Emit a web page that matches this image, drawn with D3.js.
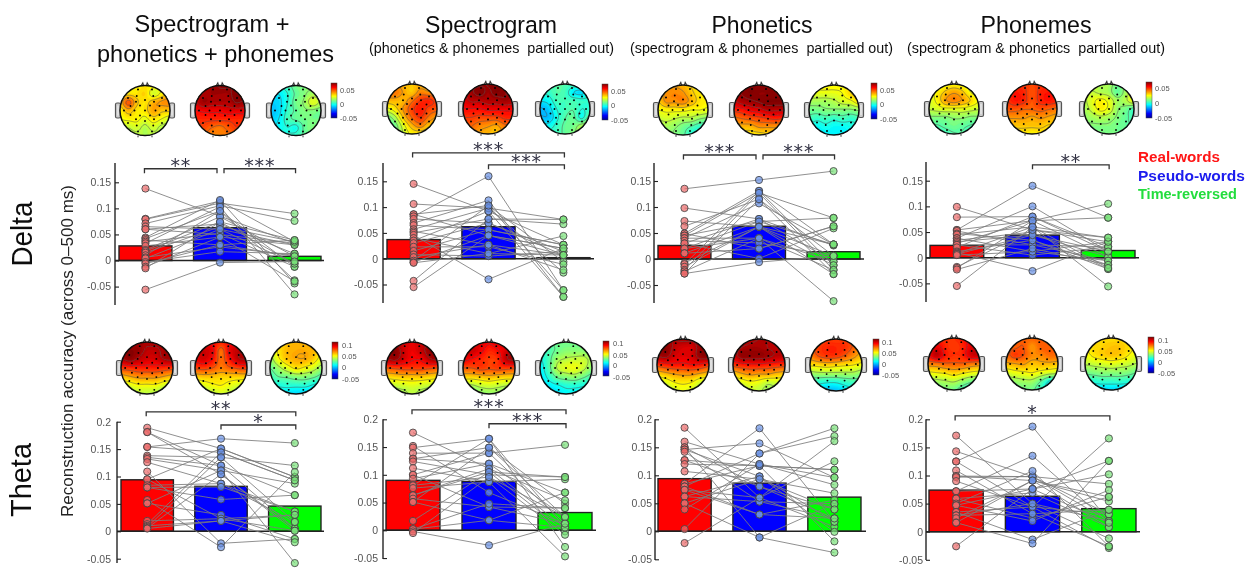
<!DOCTYPE html>
<html><head><meta charset="utf-8">
<script src="https://cdn.jsdelivr.net/npm/d3@7/dist/d3.min.js"></script>
<style>html,body{margin:0;padding:0;background:#fff}svg{display:block}text{font-family:"Liberation Sans",Arial,sans-serif}</style>
</head><body><svg id="c" width="1251" height="568"></svg>
<script>
// ---------- categories and labels ----------
const conditions = ["Real-words","Pseudo-words","Time-reversed"];
const conditionColors = ["#ff0000","#0000ff","#00ff00"];
const dotFill = ["rgb(235,105,105)","rgb(105,145,230)","rgb(120,225,120)"];
const legendColors = ["#ff1414","#1a1aee","#22dd3c"];
const deltaTicks = [-0.05,0,0.05,0.1,0.15];
const thetaTicks = [-0.05,0,0.05,0.1,0.15,0.2];
const deltaBarTicks = [-0.05,0,0.05];
const thetaBarTicks = [-0.05,0,0.05,0.1];

// ---------- mean bars ----------
const barD1=[.028,.063,.008], barD2=[.037,.062,.002], barD3=[.026,.063,.014], barD4=[.024,.044,.014];
const barT1=[.094,.082,.046], barT2=[.090,.088,.032], barT3=[.094,.086,.061], barT4=[.074,.063,.041];

// ---------- subject values ----------
const d1r=[.138,.08,.079,.071,.065,.06,.06,.044,.042,.039,.036,.033,.028,.02,.018,.015,.01,.006,.004,-.003,-.006,-.012,-.015,-.056];
const d1b=[.085,.114,.11,.105,.06,.07,.05,.116,.095,.03,.052,.103,.045,.084,.074,.065,.095,.026,.06,.017,.03,.045,.074,-.004];
const d1g=[.033,.036,.09,.076,.03,.013,.033,-.044,-.038,.039,-.012,-.065,.03,.008,-.006,.036,-.012,.01,-.006,.013,.008,-.04,.039,-.002];
const d2r=[.145,.106,.086,.086,.082,.077,.069,.065,.057,.053,.05,.046,.04,.035,.03,.023,.015,.008,.003,-.004,-.007,-.008,-.043,-.055];
const d2b=[.092,.098,.103,.045,.16,.069,.113,.056,.098,.027,.077,-.04,.01,.092,.069,.023,.056,.005,.027,.103,.045,.01,.077,.045];
const d2g=[.027,.076,-.006,.02,-.061,.014,-.074,.027,-.027,.007,.067,.02,.044,-.074,.007,-.011,.027,.014,-.022,-.061,.02,.007,.076,.007];
const d3r=[.135,.098,.073,.063,.049,.049,.045,.045,.04,.04,.035,.03,.03,.02,.02,.011,.011,-.008,-.01,-.015,-.021,-.024,-.028,-.028];
const d3b=[.152,.077,.062,.115,.131,.02,.127,.072,.107,.04,.031,.077,.001,.072,.04,.02,.062,.062,.131,.062,.127,.04,-.006,.115];
const d3g=[.169,.026,.028,.006,-.012,.063,-.021,.079,.028,-.081,.006,-.005,.059,.028,-.005,.063,-.029,.006,.028,-.012,.079,-.021,.006,-.029];
const d4r=[.099,.079,.054,.054,.052,.047,.045,.038,.038,.034,.031,.028,.025,.025,.02,.012,.01,.008,.007,.005,-.018,-.02,-.023,-.055];
const d4b=[.054,.08,.14,.072,.025,.034,.06,.012,.1,.05,.044,.072,.025,.005,.08,.034,-.026,.06,.044,.012,.054,.072,.018,.06];
const d4g=[.031,.012,.078,.002,.021,-.014,.039,.031,.012,-.022,.002,.105,-.006,.021,.021,-.022,.031,-.056,.012,-.006,.039,.078,-.014,-.02];
const t1r=[.189,.181,.181,.154,.154,.138,.135,.132,.126,.109,.095,.095,.084,.08,.08,.057,.051,.051,.019,.013,.01,.008,.006,.005];
const t1b=[.151,.12,.104,.169,.144,.135,.12,.111,.087,-.022,.151,.023,.087,.058,.081,-.029,.03,.111,.023,.144,.019,.135,.104,.019];
const t1g=[.099,.066,.005,.161,.093,.12,.005,.087,.036,-.014,.099,.03,.017,.066,.036,.108,-.014,-.058,.001,.093,.03,.017,.001,-.02];
const t2r=[.176,.152,.149,.139,.129,.129,.124,.112,.1,.1,.093,.081,.081,.076,.063,.063,.057,.051,.051,.017,.002,.002,-.002,-.005];
const t2b=[.111,.068,.165,.139,.12,.149,.1,.087,.042,.139,.12,.165,.096,.087,.105,.111,.042,.018,.149,.105,.018,.048,-.027,.096];
const t2g=[.005,.012,-.03,.154,.024,.048,.096,-.047,.04,.012,.068,.005,.024,.092,-.002,.054,.012,.005,.024,.096,.068,.04,.012,-.008];
const t3r=[.185,.16,.15,.15,.146,.146,.142,.127,.127,.12,.107,.085,.085,.08,.08,.074,.074,.062,.062,.05,.05,.039,.004,-.021];
const t3b=[.06,.12,.08,-.011,.098,.157,.053,.117,.08,.117,.093,.184,.117,.03,.139,.03,.06,.053,.098,.093,-.011,.12,.139,.06];
const t3g=[.008,.083,.039,.049,.017,.096,.023,.11,.023,-.018,.068,.017,.11,.023,.184,.056,.125,.049,-.001,.039,-.038,.096,.17,.161];
const t4r=[.171,.143,.125,.125,.109,.099,.099,.097,.09,.072,.072,.059,.059,.05,.047,.047,.035,.035,.029,.029,.024,.016,.016,-.026];
const t4b=[.05,.098,.187,.044,.032,.091,.098,.098,.044,.076,.135,.024,.069,.108,.019,.076,-.014,.044,.032,.05,.091,-.021,.091,.076];
const t4g=[-.012,.019,.019,-.029,-.026,.054,.031,.085,.031,.126,.016,.062,.008,-.026,.074,.102,.039,.166,.039,.019,.008,.126,.062,.016];

// ---------- significance brackets: condition from/to, level in y units ----------
const brD1=[[0,1,.176,"**"],[1,2,.176,"***"]];
const brD2=[[0,2,.205,"***"],[1,2,.182,"***"]];
const brD3=[[0,1,.2,"***"],[1,2,.2,"***"]];
const brD4=[[1,2,.181,"**"]];
const brT1=[[0,2,.218,"**"],[1,2,.194,"*"]];
const brT2=[[0,2,.217,"***"],[1,2,.192,"***"]];
const brT3=[];
const brT4=[[0,2,.206,"*"]];

// ---------- scalp maps: 7x7 grids, values x 0.001, front of head on the first row ----------
const mapD1a=[30,30,30,32,30,28,28, 30,32,32,34,24,30,38, 36,50,36,32,38,42,44, 30,38,32,32,40,36,36, 28,30,30,26,32,28,24, 24,22,24,20,24,20,20, 22,20,20,20,20,22,22];
const mapD1b=[68,70,72,74,74,72,72, 68,70,72,72,72,76,74, 66,72,70,70,70,74,72, 60,62,62,62,64,64,64, 56,56,56,56,56,56,56, 54,52,48,46,50,54,54, 50,48,44,44,46,48,50];
const mapD1c=[0,2,6,12,14,12,10, -6,-4,2,10,14,18,16, -8,-6,2,12,16,26,20, -10,-6,4,10,14,14,12, -8,-4,6,10,12,12,12, -6,-2,2,0,10,14,14, 0,0,2,4,10,12,12];
const mapD2a=[40,40,38,36,38,36,36, 44,46,40,36,44,42,40, 38,38,38,46,54,56,52, 26,32,42,52,58,52,50, 12,20,36,48,54,46,40, 8,12,26,38,44,36,34, 8,12,22,30,30,28,28];
const mapD2b=[70,72,72,74,76,74,72, 66,72,76,72,76,74,72, 64,68,68,70,70,72,70, 60,60,60,62,62,62,62, 54,54,52,52,52,56,56, 50,48,44,42,40,46,48, 46,46,40,38,36,42,44];
const mapD2c=[4,6,8,8,6,6,6, 2,4,8,6,-4,-6,2, -4,-2,6,6,6,4,4, -12,-8,2,6,8,2,4, -10,-10,0,8,10,0,12, -2,-2,4,10,12,18,22, 4,4,6,10,14,20,22];
const mapD3a=[34,38,40,38,34,30,30, 36,42,44,42,36,32,30, 34,42,42,44,38,32,30, 28,30,30,30,28,28,26, 22,24,22,20,20,16,14, 18,18,16,12,8,4,4, 16,16,14,10,2,0,0];
const mapD3b=[72,74,76,76,76,76,76, 72,74,76,74,74,74,74, 66,70,72,74,76,76,76, 56,58,62,64,68,68,68, 46,48,50,52,54,56,54, 38,38,38,42,42,42,40, 32,32,32,32,34,36,36];
const mapD3c=[28,30,30,30,30,32,32, 26,26,26,26,28,34,38, 18,18,18,20,24,26,32, 12,12,14,14,14,14,16, 6,4,6,4,6,4,6, 0,-2,0,-2,-2,0,0, -2,-4,-4,-4,-4,-2,-2];
const mapD4a=[22,24,28,30,28,24,22, 24,30,36,40,36,28,24, 24,30,40,44,40,34,28, 22,24,26,26,26,24,22, 14,14,14,16,16,14,14, 8,8,10,12,10,8,6, 6,6,6,8,8,4,2];
const mapD4b=[52,54,54,52,54,54,54, 54,58,56,50,56,58,56, 54,58,56,50,56,58,56, 50,50,48,48,50,48,46, 42,42,42,40,42,40,38, 36,36,36,36,36,34,34, 32,32,32,30,32,32,30];
const mapD4c=[20,20,20,18,12,16,18, 20,22,20,18,10,18,26, 20,26,30,26,18,20,28, 18,24,30,26,16,12,6, 16,18,20,18,14,10,6, 14,14,14,14,12,10,8, 12,12,12,12,12,12,12];
const mapT1a=[100,104,108,108,108,106,104, 106,112,110,104,104,108,108, 104,110,104,100,100,106,108, 84,86,88,88,88,86,84, 62,66,70,70,70,66,62, 44,48,52,52,52,46,42, 34,38,42,42,40,36,32];
const mapT1b=[92,96,92,88,92,100,100, 96,102,96,76,96,104,106, 96,100,92,76,90,104,106, 82,84,80,74,78,82,84, 60,62,62,60,60,60,60, 44,48,52,54,50,46,44, 38,40,42,46,42,38,36];
const mapT1c=[50,56,62,64,64,62,56, 44,56,64,66,66,64,54, 36,52,62,66,66,60,48, 28,38,48,56,52,46,36, 22,28,30,34,34,30,24, 14,16,18,18,18,14,12, 10,12,8,6,6,8,10];
const mapT2a=[100,104,100,98,100,106,106, 106,112,102,96,102,110,112, 104,108,100,94,94,104,108, 80,82,84,84,84,82,80, 58,60,62,62,62,60,58, 42,44,46,48,46,44,44, 34,36,38,42,38,36,36];
const mapT2b=[96,96,98,94,98,96,96, 100,102,96,88,92,100,104, 96,92,88,84,86,104,108, 80,80,84,82,84,84,82, 60,60,62,64,62,60,60, 40,40,44,46,44,42,42, 26,30,34,36,36,34,34];
const mapT2c=[24,26,30,30,30,28,26, 20,24,30,34,34,34,30, 14,24,38,42,44,44,38, 10,24,42,48,50,44,34, 8,18,30,34,36,30,24, 4,10,14,18,18,16,14, 0,2,8,12,12,12,12];
const mapT3a=[100,104,106,108,108,108,106, 108,112,104,100,100,110,110, 106,108,100,98,100,110,112, 84,88,90,90,92,90,84, 60,64,68,70,70,66,62, 44,48,54,56,54,46,44, 36,40,46,50,46,40,38];
const mapT3b=[96,100,104,106,106,104,100, 100,106,108,108,106,104,104, 100,110,110,110,108,104,104, 84,88,90,90,88,86,84, 60,66,70,68,68,64,62, 44,48,52,50,44,46,46, 34,38,44,42,38,38,38];
const mapT3c=[74,80,84,84,84,80,72, 76,84,88,88,86,78,66, 72,80,84,84,78,70,62, 56,58,60,58,56,54,50, 36,38,38,38,38,38,34, 20,18,16,16,20,22,22, 12,8,2,2,8,14,14];
const mapT4a=[84,86,86,86,90,94,94, 88,96,88,84,88,98,100, 92,104,90,86,88,100,102, 72,74,78,78,78,74,72, 52,54,56,60,56,52,50, 36,38,40,42,36,30,28, 28,30,32,30,22,16,16];
const mapT4b=[72,76,78,78,78,76,72, 74,78,80,70,78,80,78, 76,84,80,72,72,76,76, 64,66,68,62,64,64,62, 46,50,52,54,50,46,44, 34,36,38,38,28,14,14, 28,30,30,30,20,10,10];
const mapT4c=[56,56,58,58,58,56,54, 54,58,60,62,62,58,52, 50,56,60,62,60,54,48, 42,44,46,48,46,44,40, 30,32,34,34,34,32,28, 18,18,20,20,20,18,16, 10,8,6,6,6,8,10];
// electrode montage in head units
const elecX=[-.28,.28,-.33,.33,-.68,-.36,0,.36,.68,-.58,-.2,.2,.58,-.84,-.42,0,.42,.84,-.58,-.2,.2,.58,-.68,-.36,0,.36,.68,-.33,.33,-.28,.28];
const elecY=[-.84,-.84,-.58,-.58,-.5,-.35,-.42,-.35,-.5,-.18,-.2,-.2,-.18,0,0,0,0,0,.18,.2,.2,.18,.5,.35,.42,.35,.5,.6,.6,.84,.84];

// ---------- layout (geometry, kept apart from the data) ----------
const panels=[
 {r:[d1r,d1b,d1g],bar:barD1,br:brD1,t:deltaTicks,pad:4,ax:115,x0:119,x1:321,end:324,z:260.5,u:.15,up:182.3,top:163,bot:305,cy:110.5,cx:[145,220,296],mr:25,maps:[mapD1a,mapD1b,mapD1c],cb:[331,83,118,340],dom:[-50,75],step:6.5,bt:deltaBarTicks,by:[118.5,104,90]},
 {r:[d2r,d2b,d2g],bar:barD2,br:brD2,t:deltaTicks,pad:5,ax:383,x0:387,x1:590,end:594,z:258.7,u:.15,up:181.3,top:163,bot:303,cy:109,cx:[412,488,565],mr:25,maps:[mapD2a,mapD2b,mapD2c],cb:[602,84,120,611],dom:[-50,75],step:6.5,bt:deltaBarTicks,by:[120,105,91]},
 {r:[d3r,d3b,d3g],bar:barD3,br:brD3,t:deltaTicks,pad:3,ax:654,x0:658,x1:860,end:864,z:259,u:.15,up:181,top:163,bot:303,cy:110,cx:[683,759,834],mr:25,maps:[mapD3a,mapD3b,mapD3c],cb:[871,83,119,880],dom:[-50,75],step:6.5,bt:deltaBarTicks,by:[119,104,90]},
 {r:[d4r,d4b,d4g],bar:barD4,br:brD4,t:deltaTicks,pad:3,ax:926,x0:930,x1:1135,end:1139,z:257.7,u:.15,up:180.7,top:162,bot:302,cy:109,cx:[954,1032,1109],mr:25,maps:[mapD4a,mapD4b,mapD4c],cb:[1146,82,118,1155],dom:[-50,75],step:6.5,bt:deltaBarTicks,by:[118,103,88]},
 {r:[t1r,t1b,t1g],bar:barT1,br:brT1,t:thetaTicks,pad:6,ax:117,x0:121,x1:321,end:324,z:531.3,u:.2,up:421.7,top:421.7,bot:563,cy:368,cx:[147,221,296],mr:26,maps:[mapT1a,mapT1b,mapT1c],cb:[332,342,379,342],dom:[-50,113],step:13,bt:thetaBarTicks,by:[379,367,356,345]},
 {r:[t2r,t2b,t2g],bar:barT2,br:brT2,t:thetaTicks,pad:5,ax:383,x0:386,x1:592,end:596,z:530.3,u:.2,up:419.3,top:419.3,bot:559,cy:368,cx:[412,489,566],mr:26,maps:[mapT2a,mapT2b,mapT2c],cb:[603,341,376,613],dom:[-50,113],step:13,bt:thetaBarTicks,by:[377,365,355,343]},
 {r:[t3r,t3b,t3g],bar:barT3,br:brT3,t:thetaTicks,pad:3,ax:655,x0:658,x1:861,end:866,z:531.3,u:.2,up:419.3,top:419.3,bot:560,cy:365,cx:[683,759,836],mr:26,maps:[mapT3a,mapT3b,mapT3c],cb:[873,339,375,882],dom:[-50,113],step:13,bt:thetaBarTicks,by:[375,364,353,342]},
 {r:[t4r,t4b,t4g],bar:barT4,br:brT4,t:thetaTicks,pad:3,ax:926,x0:929,x1:1136,end:1140,z:531.7,u:.2,up:419.3,top:419.3,bot:560,cy:364,cx:[954,1032,1111],mr:26,maps:[mapT4a,mapT4b,mapT4c],cb:[1148,337,373,1158],dom:[-50,113],step:13,bt:thetaBarTicks,by:[373,362,351,340]}
];

const svg=d3.select("#c");
const defs=svg.append("defs");
defs.append("filter").attr("id","soft").attr("filterUnits","userSpaceOnUse")
  .attr("x",0).attr("y",0).attr("width",1251).attr("height",568)
  .append("feGaussianBlur").attr("stdDeviation",.45);
const root=svg.append("g").attr("filter","url(#soft)");

// jet colour ramp
const jetStops=[[0,"#00008f"],[.125,"#0000ff"],[.375,"#00ffff"],[.625,"#ffff00"],[.875,"#ff0000"],[1,"#800000"]];
const jet=d3.scaleLinear().domain(jetStops.map(d=>d[0])).range(jetStops.map(d=>d[1])).clamp(true);
const gr=defs.append("linearGradient").attr("id","jetbar").attr("x1",0).attr("x2",0).attr("y1",1).attr("y2",0);
jetStops.forEach(s=>gr.append("stop").attr("offset",s[0]).attr("stop-color",s[1]));

// Catmull-Rom upsampling of a map grid
function cub(a,b,c,d,t){return .5*(2*b+(c-a)*t+(2*a-5*b+4*c-d)*t*t+(3*b-a-3*c+d)*t*t*t);}
function upsample(g,n,f){
  const m=(n-1)*f+1,o=new Float64Array(m*m),at=(i,j)=>g[Math.max(0,Math.min(n-1,j))*n+Math.max(0,Math.min(n-1,i))];
  for(let y=0;y<m;y++)for(let x=0;x<m;x++){
    const i=Math.min(n-2,Math.floor(x/f)),j=Math.min(n-2,Math.floor(y/f)),tx=x/f-i,ty=y/f-j,row=[];
    for(let k=-1;k<3;k++)row.push(cub(at(i-1,j+k),at(i,j+k),at(i+1,j+k),at(i+2,j+k),tx));
    o[y*m+x]=cub(row[0],row[1],row[2],row[3],ty);
  }
  return {v:o,m};
}

let clipN=0;
function topomap(g,cx,cy,r,grid,dom,step){
  const {v,m}=upsample(grid,7,8);
  const sx=d3.scaleLinear().domain([-1,1]).range([cx-r,cx+r]);
  const sy=d3.scaleLinear().domain([-1,1]).range([cy-r,cy+r]);
  const toPx=(m-1);
  const path=d3.geoPath(d3.geoTransform({point(x,y){this.stream.point(sx(2*(x-.5)/toPx-1),sy(2*(y-.5)/toPx-1));}}));
  const color=d=>jet((d-dom[0])/(dom[1]-dom[0]));
  const id="h"+(clipN++);
  defs.append("clipPath").attr("id",id).append("circle").attr("cx",cx).attr("cy",cy).attr("r",r);
  const mg=g.append("g");
  // ears and nose behind the head
  [-1,1].forEach(s=>{
    const ex=s<0?cx-r-4.5:cx+r-.5;
    mg.append("rect").attr("x",ex).attr("y",cy-7.5).attr("width",5).attr("height",15).attr("rx",1.5)
      .attr("fill","#ccc").attr("stroke","#555").attr("stroke-width",1.2);
    mg.append("line").attr("x1",ex+2.5).attr("x2",ex+2.5).attr("y1",cy-5).attr("y2",cy+5).attr("stroke","#fff").attr("stroke-width",.8);
    mg.append("path").attr("d",`M${cx+s*1.5},${cy-r}L${cx+s*2.2},${cy-r-2.6}L${cx+s*3.6},${cy-r-.3}`).attr("fill","none").attr("stroke","#333").attr("stroke-width",1.1);
    mg.append("line").attr("x1",cx+s*7).attr("x2",cx+s*7).attr("y1",cy+r).attr("y2",cy+r+1.8).attr("stroke","#333");
  });
  const cg=mg.append("g").attr("clip-path",`url(#${id})`);
  const fillLevels=d3.range(dom[0]-10,dom[1]+10,2);
  cg.selectAll("path.f").data(d3.contours().size([m,m]).smooth(true).thresholds(fillLevels)(v))
    .join("path").attr("class","f").attr("d",path).attr("fill",d=>color(d.value)).attr("stroke",d=>color(d.value)).attr("stroke-width",.3);
  const lineLevels=d3.range(dom[0],dom[1]+1,step);
  cg.selectAll("path.l").data(d3.contours().size([m,m]).smooth(true).thresholds(lineLevels)(v))
    .join("path").attr("class","l").attr("d",path).attr("fill","none").attr("stroke","#555").attr("stroke-width",.7).attr("stroke-opacity",.75);
  mg.append("circle").attr("cx",cx).attr("cy",cy).attr("r",r).attr("fill","none").attr("stroke","#111").attr("stroke-width",1.5);
  mg.selectAll("circle.e").data(elecX).join("circle").attr("class","e")
    .attr("cx",d=>sx(d)).attr("cy",(d,i)=>sy(elecY[i])).attr("r",.95).attr("fill","#000");
}

panels.forEach(p=>{
  const g=root.append("g");
  const y=d3.scaleLinear().domain([0,p.u]).range([p.z,p.up]);
  const x=d3.scaleBand().domain(conditions).range([p.x0,p.x1]).paddingInner(.29);
  const cxp=c=>x(c)+x.bandwidth()/2;

  // scalp maps
  p.maps.forEach((grid,i)=>topomap(g,p.cx[i],p.cy,p.mr,grid,p.dom,p.step));
  // colour bar
  g.append("rect").attr("x",p.cb[0]).attr("y",p.cb[1]).attr("width",6).attr("height",p.cb[2]-p.cb[1])
    .attr("fill","url(#jetbar)").attr("stroke","#444").attr("stroke-width",.5);
  g.selectAll("text.cb").data(p.bt).join("text").attr("class","cb")
    .attr("x",p.cb[3]).attr("y",(d,i)=>p.by[i]).attr("dy",".35em").attr("font-size",7.5).attr("fill","#555").text(d=>String(d));

  // bars
  g.selectAll("rect.bar").data(conditions).join("rect").attr("class","bar")
    .attr("x",c=>x(c)).attr("width",x.bandwidth())
    .attr("y",(c,i)=>y(p.bar[i])).attr("height",(c,i)=>y(0)-y(p.bar[i]))
    .attr("fill",(c,i)=>conditionColors[i]).attr("stroke","#222").attr("stroke-width",1.4);

  // axis
  const axis=d3.axisLeft(y).tickValues(p.t).tickSize(-4).tickPadding(p.pad).tickFormat(d=>String(d));
  const ag=g.append("g").attr("transform",`translate(${p.ax},0)`).call(axis);
  ag.select(".domain").remove();
  ag.selectAll(".tick line").attr("stroke","#222").attr("stroke-width",1.1);
  ag.selectAll(".tick text").attr("font-size",10.5).attr("fill","#555").attr("font-family","Liberation Sans");
  g.append("line").attr("x1",p.ax).attr("x2",p.ax).attr("y1",p.top).attr("y2",p.bot).attr("stroke","#222").attr("stroke-width",1.4);
  g.append("line").attr("x1",p.ax).attr("x2",p.end).attr("y1",y(0)).attr("y2",y(0)).attr("stroke","#222").attr("stroke-width",1.5);

  // paired subject lines
  const n=p.r[0].length;
  const subj=d3.range(n);
  const ln=d3.line().x(d=>d[0]).y(d=>d[1]);
  g.selectAll("path.sub").data(subj).join("path").attr("class","sub")
    .attr("d",s=>ln(conditions.map((c,k)=>[cxp(c),y(p.r[k][s])])))
    .attr("fill","none").attr("stroke","#7c7c7c").attr("stroke-width",.85);
  // subject dots
  conditions.forEach((c,k)=>{
    g.selectAll("circle.d"+k).data(p.r[k]).join("circle").attr("class","d"+k)
      .attr("cx",cxp(c)).attr("cy",d=>y(d)).attr("r",3.6)
      .attr("fill",dotFill[k]).attr("fill-opacity",.7).attr("stroke","#444").attr("stroke-width",.85);
  });

  // significance brackets
  p.br.forEach(b=>{
    const shared=p.br.length===2&&p.br[0][2]===p.br[1][2];
    const a=cxp(conditions[b[0]])+(shared&&b[0]===1?4:0)-(b[0]===0?1:0);
    const e=cxp(conditions[b[1]])-(shared&&b[1]===1?3:0)+(b[1]===2?1:0);
    const ly=y(b[2]);
    g.append("path").attr("d",`M${a},${ly+4.5}V${ly}H${e}V${ly+4.5}`).attr("fill","none").attr("stroke","#333").attr("stroke-width",1.3);
    g.append("text").attr("x",(a+e)/2).attr("y",ly+3).attr("text-anchor","middle").style("font-family","'DejaVu Sans'")
      .attr("font-size",19).attr("letter-spacing",.8).attr("fill","#334").text(b[3]);
  });
});

// titles
const titles=[
 ["Spectrogram +",212,32,155,24.5],["phonetics + phonemes",215.5,62,237,24.5],
 ["Spectrogram",491,33,132,24.5],["Phonetics",762,33,101,24.5],["Phonemes",1036,33,111,24.5]];
root.selectAll("text.ti").data(titles).join("text").attr("class","ti")
  .attr("x",d=>d[1]).attr("y",d=>d[2]).attr("text-anchor","middle").attr("font-size",d=>d[4])
  .attr("textLength",d=>d[3]).attr("lengthAdjust","spacingAndGlyphs").attr("fill","#111").text(d=>d[0]);
const subs=[["(phonetics & phonemes  partialled out)",491.5,245],["(spectrogram & phonemes  partialled out)",761.5,263],["(spectrogram & phonetics  partialled out)",1036,258]];
root.selectAll("text.su").data(subs).join("text").attr("class","su").attr("xml:space","preserve")
  .attr("x",d=>d[1]).attr("y",53).attr("text-anchor","middle").attr("font-size",14.5)
  .attr("textLength",d=>d[2]).attr("lengthAdjust","spacingAndGlyphs").attr("fill","#111").text(d=>d[0]);

// row labels
const rows=[["Delta",32,234,65],["Theta",31,480,74]];
root.selectAll("text.row").data(rows).join("text").attr("class","row")
  .attr("transform",d=>`translate(${d[1]},${d[2]}) rotate(-90)`).attr("text-anchor","middle")
  .attr("font-size",30).attr("textLength",d=>d[3]).attr("lengthAdjust","spacingAndGlyphs").attr("fill","#111").text(d=>d[0]);
root.append("text").attr("transform","translate(73,351) rotate(-90)").attr("text-anchor","middle")
  .attr("font-size",17).attr("textLength",332).attr("lengthAdjust","spacingAndGlyphs").attr("fill","#222")
  .text("Reconstruction accuracy (across 0–500 ms)");

// legend
const legendWidths=[82,107,99];
root.selectAll("text.lg").data(conditions).join("text").attr("class","lg")
  .attr("x",1138).attr("y",(d,i)=>162+i*18.7).attr("font-size",15).attr("font-weight","bold")
  .attr("textLength",(d,i)=>legendWidths[i]).attr("lengthAdjust","spacingAndGlyphs")
  .attr("fill",(d,i)=>legendColors[i]).text(d=>d);
</script></body></html>
